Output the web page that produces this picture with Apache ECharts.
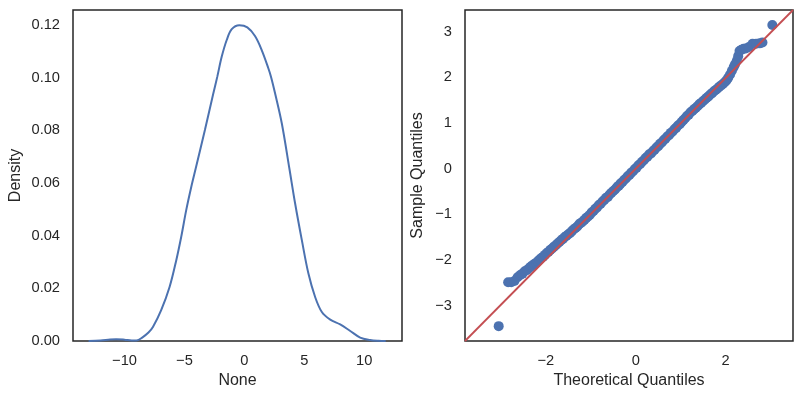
<!DOCTYPE html>
<html>
<head>
<meta charset="utf-8">
<script src="https://cdn.jsdelivr.net/npm/echarts@6/dist/echarts.min.js"></script>
<style>html,body{margin:0;padding:0;background:#fff}#c{width:802px;height:399px}</style>
</head>
<body>
<div id="c"></div>
<script>
// KDE curve (left panel)
const kdeX = [-13.0, -12.0, -11.2, -10.7, -10.0, -9.4, -9.0, -8.47, -8.0, -7.63, -6.94, -6.24, -5.68, -5.27, -4.85, -4.43, -4.06, -3.29, -2.59, -2.26, -1.89, -1.47, -1.05, -0.42, 0.25, 0.89, 1.45, 2.01, 2.23, 2.57, 3.13, 3.76, 4.24, 4.80, 5.35, 5.91, 6.47, 7.17, 8.0, 8.84, 9.67, 10.5, 11.2, 11.8];
const kdeY = [0.00003, 0.0002, 0.0006, 0.0007, 0.0005, 0.0002, 0.0002, 0.0015, 0.0032, 0.0053, 0.0117, 0.0205, 0.0307, 0.0395, 0.0497, 0.0585, 0.0655, 0.0801, 0.0940, 0.1003, 0.1079, 0.1143, 0.1184, 0.1199, 0.1191, 0.1158, 0.1105, 0.1035, 0.1003, 0.0940, 0.0826, 0.0655, 0.0522, 0.0383, 0.0256, 0.0167, 0.0110, 0.0081, 0.0063, 0.0038, 0.0013, 0.0004, 0.0001, 0.00002];
const kdeXTicks = [-10, -5, 0, 5, 10];
const kdeYTicks = [0, 0.02, 0.04, 0.06, 0.08, 0.10, 0.12];

// Q-Q plot (right panel)
const qqTheoretical = [-3.05, -2.84, -2.77, -2.70, -2.63, -2.57, -2.52, -2.47, -2.42, -2.38, -2.34, -2.30, -2.26, -2.22, -2.18, -2.14, -2.10, -2.06, -2.02, -1.98, -1.94, -1.90, -1.86, -1.82, -1.78, -1.74, -1.70, -1.66, -1.62, -1.58, -1.54, -1.50, -1.46, -1.42, -1.38, -1.34, -1.30, -1.26, -1.22, -1.18, -1.14, -1.10, -1.06, -1.02, -0.98, -0.94, -0.90, -0.86, -0.82, -0.78, -0.74, -0.70, -0.66, -0.62, -0.58, -0.54, -0.50, -0.46, -0.42, -0.38, -0.34, -0.30, -0.26, -0.22, -0.18, -0.14, -0.10, -0.06, -0.02, 0.02, 0.06, 0.10, 0.14, 0.18, 0.22, 0.26, 0.30, 0.34, 0.38, 0.42, 0.46, 0.50, 0.54, 0.58, 0.62, 0.66, 0.70, 0.74, 0.78, 0.82, 0.86, 0.90, 0.94, 0.98, 1.02, 1.06, 1.10, 1.14, 1.18, 1.22, 1.26, 1.30, 1.34, 1.38, 1.42, 1.46, 1.50, 1.54, 1.58, 1.62, 1.66, 1.70, 1.74, 1.78, 1.82, 1.86, 1.90, 1.94, 1.98, 2.02, 2.06, 2.10, 2.14, 2.18, 2.21, 2.25, 2.28, 2.31, 2.35, 2.40, 2.45, 2.52, 2.60, 2.68, 2.76, 2.82, 3.04];
const qqSample = [-3.45, -2.49, -2.49, -2.46, -2.38, -2.33, -2.30, -2.25, -2.22, -2.19, -2.15, -2.12, -2.09, -2.07, -2.03, -1.99, -1.96, -1.93, -1.89, -1.85, -1.82, -1.78, -1.75, -1.71, -1.68, -1.64, -1.61, -1.57, -1.54, -1.50, -1.47, -1.44, -1.41, -1.37, -1.33, -1.30, -1.27, -1.22, -1.19, -1.16, -1.12, -1.08, -1.05, -1.01, -0.96, -0.93, -0.88, -0.85, -0.80, -0.77, -0.72, -0.69, -0.64, -0.62, -0.57, -0.53, -0.49, -0.46, -0.41, -0.38, -0.33, -0.30, -0.25, -0.22, -0.17, -0.14, -0.09, -0.06, -0.01, 0.02, 0.07, 0.10, 0.15, 0.18, 0.23, 0.26, 0.31, 0.33, 0.38, 0.41, 0.46, 0.49, 0.54, 0.57, 0.62, 0.65, 0.70, 0.73, 0.78, 0.81, 0.86, 0.89, 0.94, 0.97, 1.02, 1.06, 1.10, 1.15, 1.18, 1.23, 1.26, 1.30, 1.33, 1.37, 1.41, 1.44, 1.48, 1.51, 1.55, 1.58, 1.62, 1.65, 1.69, 1.72, 1.75, 1.79, 1.82, 1.85, 1.89, 1.93, 1.99, 2.06, 2.14, 2.22, 2.28, 2.36, 2.46, 2.57, 2.60, 2.62, 2.63, 2.66, 2.73, 2.73, 2.74, 2.76, 3.14];
const refLineX = [-3.80, 3.50];
const refLineY = [-3.775, 3.47];
const qqXTicks = [-2, 0, 2];
const qqYTicks = [-3, -2, -1, 0, 1, 2, 3];

const FONT = '"Liberation Sans", Arial, "DejaVu Sans", sans-serif';
const TXT = '#262626';
const minus = v => String(v).replace('-', '\u2212');

const kdeData = kdeX.map((x, i) => [x, kdeY[i]]);
const qqData = qqTheoretical.map((x, i) => [x, qqSample[i]]);
const refData = refLineX.map((x, i) => [x, refLineY[i]]);

function axisCommon(extra) {
  return Object.assign({
    type: 'value',
    axisLine: { show: false },
    axisTick: { show: false },
    splitLine: { show: false },
    nameLocation: 'middle',
    nameTextStyle: { fontFamily: FONT, fontSize: 16, color: TXT },
  }, extra);
}

const chart = echarts.init(document.getElementById('c'), null, { renderer: 'canvas' });
chart.setOption({
  animation: false,
  backgroundColor: '#ffffff',
  grid: [
    { left: 73, top: 10, width: 329, height: 331, show: true, borderColor: '#262626', borderWidth: 1.5, backgroundColor: 'transparent' },
    { left: 465, top: 10, width: 328, height: 331, show: true, borderColor: '#262626', borderWidth: 1.5, backgroundColor: 'transparent' }
  ],
  xAxis: [
    axisCommon({ gridIndex: 0, min: -14.3, max: 13.16, name: 'None', nameGap: 30,
      axisLabel: { customValues: kdeXTicks, formatter: minus, fontFamily: FONT, fontSize: 14.67, color: TXT, margin: 12 } }),
    axisCommon({ gridIndex: 1, min: -3.80, max: 3.50, name: 'Theoretical Quantiles', nameGap: 30,
      axisLabel: { customValues: qqXTicks, formatter: minus, fontFamily: FONT, fontSize: 14.67, color: TXT, margin: 12 } })
  ],
  yAxis: [
    axisCommon({ gridIndex: 0, min: 0, max: 0.1257, name: 'Density', nameGap: 49,
      axisLabel: { customValues: kdeYTicks, formatter: v => v.toFixed(2), fontFamily: FONT, fontSize: 14.67, color: TXT, margin: 13 } }),
    axisCommon({ gridIndex: 1, min: -3.775, max: 3.47, name: 'Sample Quantiles', nameGap: 39,
      axisLabel: { customValues: qqYTicks, formatter: minus, fontFamily: FONT, fontSize: 14.67, color: TXT, margin: 13 } })
  ],
  series: [
    { type: 'line', xAxisIndex: 0, yAxisIndex: 0, data: kdeData, showSymbol: false, smooth: 0.35,
      lineStyle: { color: '#4C72B0', width: 2 }, clip: true, z: 3 },
    { type: 'scatter', xAxisIndex: 1, yAxisIndex: 1, data: qqData, symbolSize: 10,
      itemStyle: { color: '#4C72B0', opacity: 1 }, clip: true, z: 2 },
    { type: 'line', xAxisIndex: 1, yAxisIndex: 1, data: refData, showSymbol: false,
      lineStyle: { color: '#C44E52', width: 1.8 }, clip: true, z: 4 }
  ]
});
</script>
</body>
</html>
